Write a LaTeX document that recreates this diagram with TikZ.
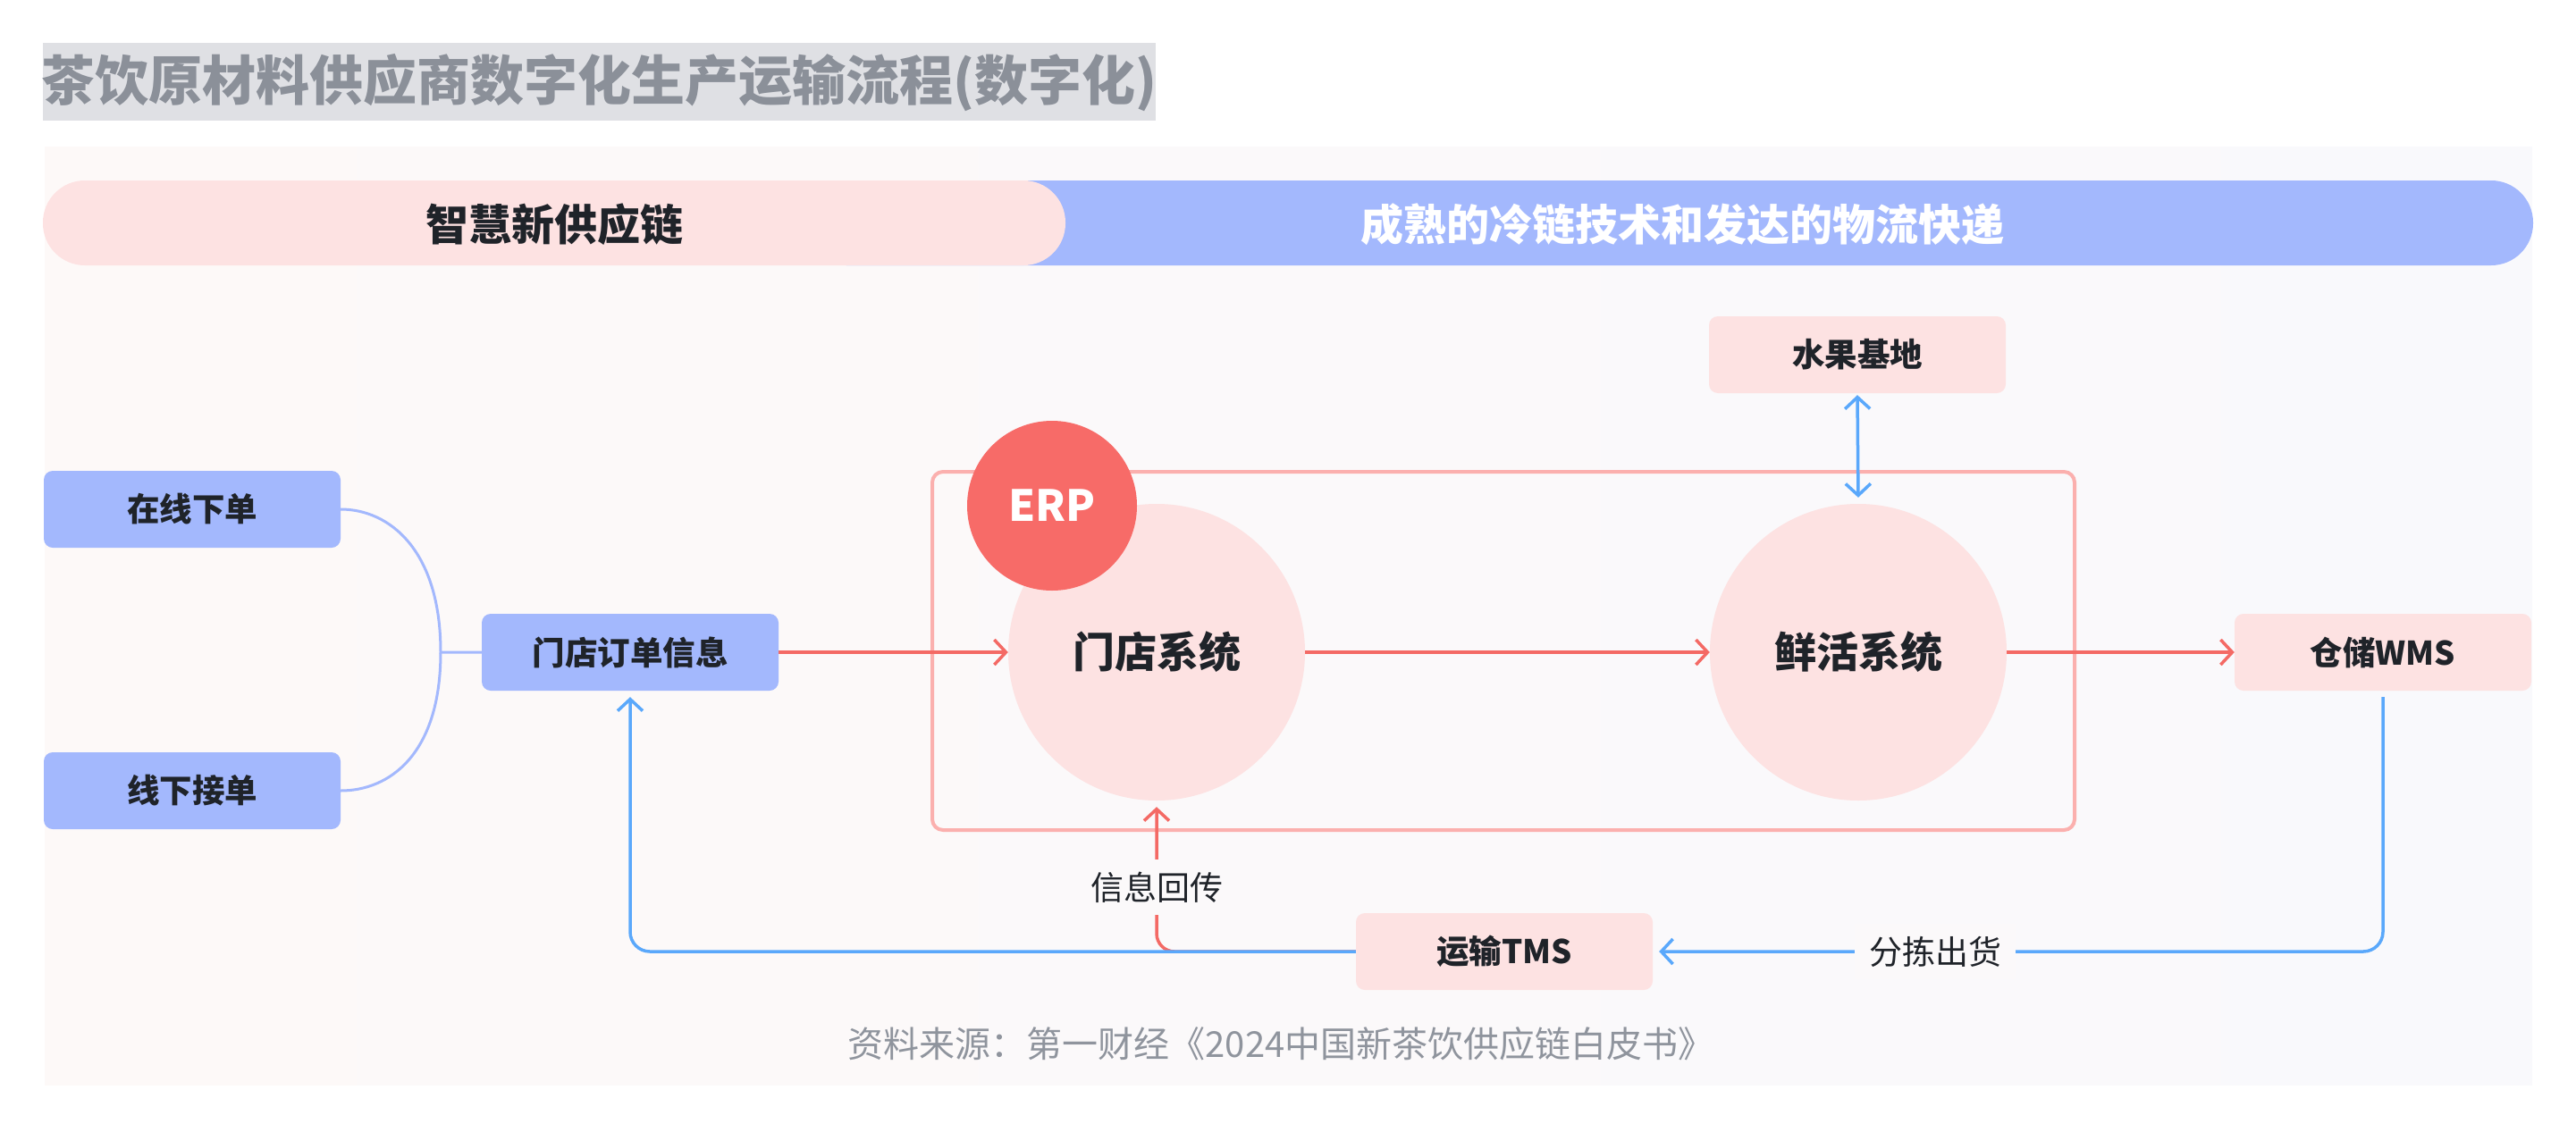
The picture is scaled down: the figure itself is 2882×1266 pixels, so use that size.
\documentclass[tikz,border=0pt]{standalone}
\usepackage{fontspec}
\setmainfont{Noto Sans CJK SC}
\usetikzlibrary{arrows.meta}
\definecolor{titlebg}{HTML}{DFE0E4}
\definecolor{titletxt}{HTML}{8B9099}
\definecolor{panelL}{HTML}{FDF9F8}
\definecolor{panelR}{HTML}{F9F9FC}
\definecolor{pinkfill}{HTML}{FDE2E2}
\definecolor{nodeblue}{HTML}{A3B8FD}
\definecolor{ercircle}{HTML}{F76B68}
\definecolor{lred}{HTML}{F46A65}
\definecolor{erpbox}{HTML}{FBB0AE}
\definecolor{lblue}{HTML}{5AA8FB}
\definecolor{dark}{HTML}{1F2329}
\definecolor{srcgray}{HTML}{8F949D}
\definecolor{labelbg}{HTML}{FBF9FA}
\begin{document}
\begin{tikzpicture}[x=1pt,y=-1pt,
  txt/.style={text=dark, font=\fontsize{36.5}{42}\selectfont\bfseries},
  bluebox/.style={rectangle, rounded corners=10pt, fill=nodeblue, minimum width=332pt, minimum height=86pt, inner sep=0pt, txt},
  pinkbox/.style={rectangle, rounded corners=10pt, fill=pinkfill, minimum width=332pt, minimum height=86pt, inner sep=0pt, txt},
  bigcirc/.style={circle, fill=pinkfill, minimum size=332pt, inner sep=0pt, text=dark, font=\fontsize{47}{52}\selectfont\bfseries},
  barb/.tip={Straight Barb[length=13pt,width=28pt]},
  redarr/.style={draw=lred, line width=3.5pt, -barb},
  bluearr/.style={draw=lblue, line width=3.5pt, -barb},
  bracket/.style={draw=nodeblue, line width=3pt},
  lbl/.style={fill=labelbg, text=dark, font=\fontsize{37}{42}\selectfont, inner xsep=16pt, inner ysep=14pt}
]
\useasboundingbox (0,0) rectangle (2882,1266);
\fill[white] (0,0) rectangle (2882,1266);

% title
\fill[titlebg] (48,48) rectangle (1293,135);
\node[text=titletxt, font=\fontsize{60}{66}\selectfont\bfseries] (title) at (670,93) {茶饮原材料供应商数字化生产运输流程(数字化)};

% panel
\shade[left color=panelL, right color=panelR] (50,164) rectangle (2833,1214);

% band
\fill[nodeblue, rounded corners=47pt] (900,202) rectangle (2834,297);
\fill[pinkfill, rounded corners=47pt] (48,202) rectangle (1192,297);
\node[text=dark, font=\fontsize{48}{54}\selectfont\bfseries] (bandL) at (620,251) {智慧新供应链};
\node[text=white, font=\fontsize{48}{54}\selectfont\bfseries] (bandR) at (1882,251) {成熟的冷链技术和发达的物流快递};

% ERP box
\draw[draw=erpbox, line width=4pt, rounded corners=12pt] (1043,528) rectangle (2321,929);

% nodes
\node[bluebox] (zx) at (215,570) {在线下单};
\node[bluebox] (xx) at (215,885) {线下接单};
\node[bluebox] (dd) at (705,730) {门店订单信息};
\node[pinkbox] (sg) at (2078,397) {水果基地};
\node[pinkbox] (wms) at (2666,730) {仓储WMS};
\node[pinkbox] (tms) at (1683,1065) {运输TMS};
\node[bigcirc] (md) at (1294,730) {门店系统};
\node[bigcirc] (xh) at (2079,730) {鲜活系统};
\node[circle, fill=ercircle, minimum size=190pt, inner sep=0pt, text=white, font=\fontsize{48}{54}\selectfont\bfseries] (erp) at (1177,566) {ERP};

% bracket connectors
\draw[bracket] (zx.east) .. controls (435,570) and (493,615) .. (493,730) -- (dd.west);
\draw[bracket] (xx.east) .. controls (435,885) and (493,845) .. (493,730);

% red flow
\draw[redarr] (dd.east) -- (md.west);
\draw[redarr] (md.east) -- (xh.west);
\draw[redarr] (xh.east) -- (wms.west);
\draw[redarr, rounded corners=20pt, shorten >=7pt] (tms.west) -| (md.south);
\node[lbl] (hc) at (1294,993) {信息回传};

% blue flow
\draw[draw=lblue, line width=3.5pt, barb-barb, shorten <=2pt, shorten >=7pt] (sg.south) -- (xh.north);
\draw[bluearr, rounded corners=22pt, shorten <=7pt, shorten >=7pt] (wms.south) |- (tms.east);
\node[lbl] (fj) at (2165,1065) {分拣出货};
\draw[bluearr, rounded corners=22pt, shorten >=7pt] (tms.west) -| (dd.south);

% source
\node[text=srcgray, font=\fontsize{40}{46}\selectfont] (src) at (1433,1168) {资料来源：第一财经《2024中国新茶饮供应链白皮书》};
\end{tikzpicture}
\end{document}
